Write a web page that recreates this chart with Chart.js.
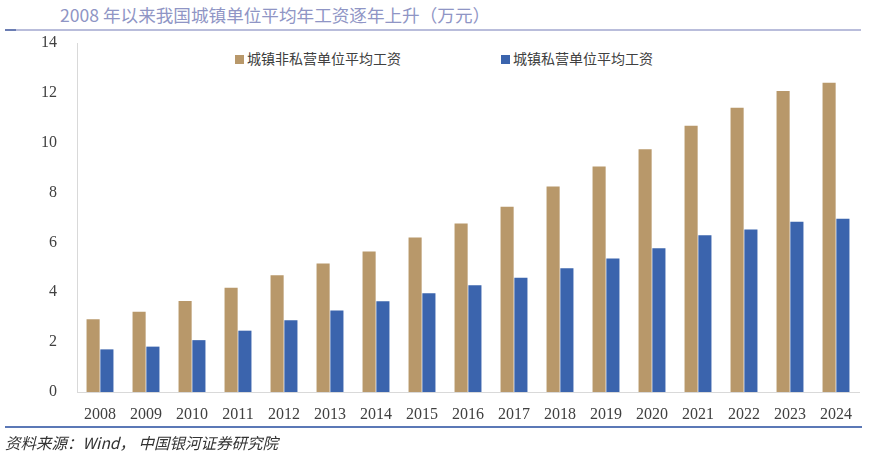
<!DOCTYPE html>
<html>
<head>
<meta charset="utf-8">
<script src="https://cdn.jsdelivr.net/npm/chart.js@4"></script>
<style>
  body { margin: 0; background: #fff; width: 872px; height: 454px; position: relative; overflow: hidden; }
  #title { position: absolute; left: 60px; top: 2px; font: 17.6px "Noto Sans CJK SC", sans-serif; color: #8f95c5; white-space: nowrap; }
  #topLine { position: absolute; left: 5px; top: 29px; width: 856px; height: 2px; background: #b9bddb; }
  #topMark { position: absolute; left: 5px; top: 29px; width: 11px; height: 2px; background: #6b7db3; }
  #bottomLine { position: absolute; left: 5px; top: 426px; width: 857px; height: 2px; background: #5b78b6; }
  #source { position: absolute; left: 5px; top: 431px; font: italic 15.5px "Noto Sans CJK SC", serif; color: #333; white-space: nowrap; }
  .legend { position: absolute; top: 48px; font: 14px "Noto Sans CJK SC", sans-serif; color: #404040; white-space: nowrap; }
  .legend span { display: inline-block; width: 9px; height: 9px; margin-right: 3px; vertical-align: 0px; }
  #chartBox { position: absolute; left: 0; top: 0; width: 872px; height: 454px; }
</style>
</head>
<body>
<div id="title">2008 年以来我国城镇单位平均年工资逐年上升（万元）</div>
<div id="topLine"></div>
<div id="topMark"></div>
<div class="legend" style="left:235px"><span style="background:#b8986a"></span>城镇非私营单位平均工资</div>
<div class="legend" style="left:501px"><span style="background:#3b64ad"></span>城镇私营单位平均工资</div>
<div id="chartBox"><canvas id="wageChart"></canvas></div>
<div id="bottomLine"></div>
<div id="source">资料来源：<i>Wind</i>， 中国银河证券研究院</div>
<script>
const years = ['2008', '2009', '2010', '2011', '2012', '2013', '2014', '2015', '2016',
  '2017', '2018', '2019', '2020', '2021', '2022', '2023', '2024'];
const nonPrivateWage = [2.92, 3.22, 3.65, 4.18, 4.68, 5.15, 5.64, 6.20, 6.76,
  7.43, 8.24, 9.05, 9.74, 10.68, 11.40, 12.07, 12.41];
const privateWage = [1.71, 1.82, 2.08, 2.46, 2.88, 3.27, 3.64, 3.96, 4.28,
  4.58, 4.96, 5.36, 5.77, 6.29, 6.52, 6.83, 6.95];
const yTicks = [0, 2, 4, 6, 8, 10, 12, 14];

const ctx = document.getElementById('wageChart').getContext('2d');
new Chart(ctx, {
  type: 'bar',
  data: {
    labels: years,
    datasets: [{
      label: '城镇非私营单位平均工资',
      data: nonPrivateWage,
      backgroundColor: '#b8986a',
      barPercentage: 0.95,
      categoryPercentage: 0.6
    }, {
      label: '城镇私营单位平均工资',
      data: privateWage,
      backgroundColor: '#3b64ad',
      barPercentage: 0.95,
      categoryPercentage: 0.6
    }]
  },
  options: {
    responsive: true,
    maintainAspectRatio: false,
    animation: false,
    layout: {
      padding: { left: 0, right: 13, top: 43, bottom: 32 }
    },
    plugins: {
      legend: { display: false },
      tooltip: { enabled: false }
    },
    scales: {
      x: {
        grid: { display: false, drawTicks: false },
        border: { color: '#d9d9d9', width: 1 },
        ticks: {
          color: '#404040',
          padding: 13,
          maxRotation: 0,
          font: { family: 'Liberation Serif', size: 16 }
        },
        afterFit: (scale) => { scale.height = 30; }
      },
      y: {
        min: 0,
        max: 14,
        grid: { display: false, drawTicks: false },
        border: { color: '#d9d9d9', width: 1 },
        afterBuildTicks: (scale) => {
          scale.ticks = yTicks.map(v => ({ value: v }));
        },
        ticks: {
          color: '#404040',
          padding: 20,
          font: { family: 'Liberation Serif', size: 16 }
        },
        afterFit: (scale) => { scale.width = 77; }
      }
    }
  }
});
</script>
</body>
</html>
